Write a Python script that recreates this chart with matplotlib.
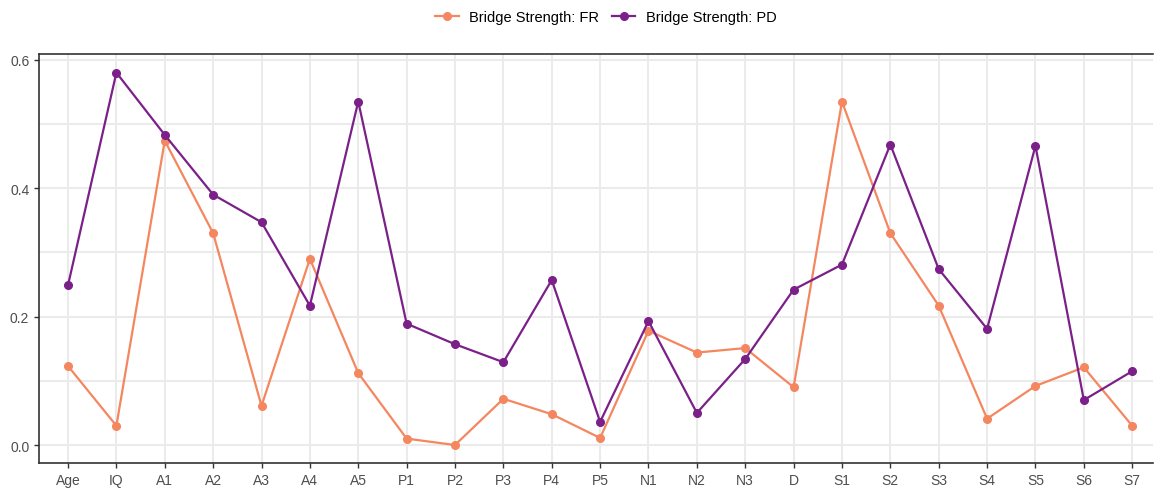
import matplotlib.pyplot as plt

plt.rcParams['font.family'] = ['Liberation Sans', 'DejaVu Sans']

labels = ["Age", "IQ", "A1", "A2", "A3", "A4", "A5", "P1", "P2", "P3", "P4", "P5",
          "N1", "N2", "N3", "D", "S1", "S2", "S3", "S4", "S5", "S6", "S7"]
fr = [0.123, 0.030, 0.474, 0.330, 0.061, 0.290, 0.112, 0.010, 0.000, 0.072, 0.048, 0.011,
      0.178, 0.144, 0.151, 0.090, 0.535, 0.330, 0.217, 0.041, 0.092, 0.121, 0.030]
pd_ = [0.249, 0.580, 0.483, 0.390, 0.347, 0.217, 0.535, 0.189, 0.157, 0.129, 0.257, 0.036,
       0.193, 0.050, 0.134, 0.242, 0.281, 0.468, 0.274, 0.181, 0.466, 0.070, 0.115]

fig = plt.figure(figsize=(11.54, 4.89), dpi=100)
ax = fig.add_axes([39/1154, 25/489, 1114/1154, 409/489])

x = range(len(labels))
ax.plot(x, fr, color="#F4875F", marker="o", markersize=5.5, linewidth=1.6,
        label="Bridge Strength: FR", zorder=3)
ax.plot(x, pd_, color="#7B2089", marker="o", markersize=5.5, linewidth=1.6,
        label="Bridge Strength: PD", zorder=4)

ax.set_xticks(list(x))
ax.set_xticklabels(labels)
ax.set_yticks([0.0, 0.2, 0.4, 0.6])
ax.set_yticks([0.1, 0.3, 0.5], minor=True)
ax.set_xlim(-0.6, 22.43)
ax.set_ylim(-0.028, 0.609)

ax.grid(True, which="major", color="#EBEBEB", linewidth=1.5)
ax.grid(True, which="minor", axis="y", color="#EBEBEB", linewidth=1.5)
ax.set_axisbelow(True)
ax.tick_params(axis="both", which="major", colors="#333333", labelcolor="#4D4D4D",
               labelsize=10, length=3.5, width=1)
ax.tick_params(axis="y", which="minor", length=0)
for s in ax.spines.values():
    s.set_color("#333333")
    s.set_linewidth(1.2)
ax.spines["right"].set_visible(False)

fig.legend(loc="upper center", bbox_to_anchor=(0.525, 1.005), ncol=2, frameon=False,
           fontsize=10.5, handlelength=1.6, columnspacing=0.9, handletextpad=0.7)

fig.savefig("out.png", dpi=100)
